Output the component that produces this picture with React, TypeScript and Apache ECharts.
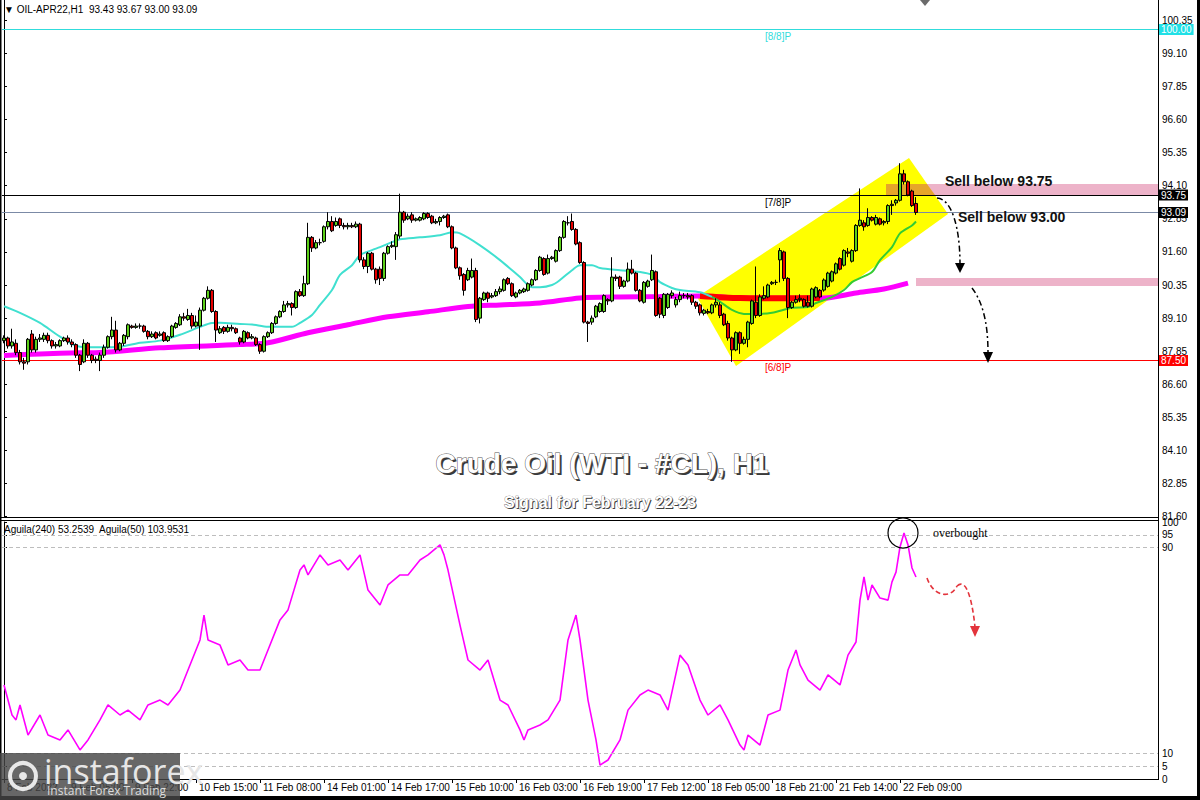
import React, { useEffect, useRef } from "react";
import * as echarts from "echarts";

// ---------- DATA ----------
// hourly candles, index = bar number from the left, [open, close, low, high]
const OHLC: number[][] = [
  [88.25, 88.35, 88.15, 88.45], [88.35, 88.05, 87.95, 88.4], [88.05, 88.2, 87.95, 88.7], [88.15, 87.8, 87.7, 88.3],
  [87.8, 87.45, 87.35, 87.9], [87.45, 87.4, 87.15, 87.6], [87.45, 88.3, 87.35, 88.35], [88.5, 87.9, 87.8, 88.65],
  [87.9, 88.3, 87.8, 88.4], [88.3, 88.35, 88.2, 88.5], [88.3, 88.45, 88.2, 88.55], [88.45, 88.25, 88.15, 88.55],
  [88.25, 88.05, 87.95, 88.3], [88.05, 88.1, 87.95, 88.2], [88.05, 88.25, 88.0, 88.3], [88.25, 88.35, 88.2, 88.4],
  [88.35, 88.2, 88.1, 88.45], [88.2, 88.1, 88.0, 88.3], [88.1, 87.7, 87.6, 88.15], [87.7, 87.35, 87.1, 87.75],
  [87.45, 88.15, 87.4, 88.3], [88.15, 87.7, 87.6, 88.2], [87.7, 87.5, 87.4, 87.75], [87.55, 87.5, 87.4, 87.65],
  [87.5, 87.7, 87.1, 87.8], [87.7, 88.0, 87.6, 88.1], [88.0, 88.4, 87.95, 88.45], [88.4, 88.65, 88.3, 89.15],
  [88.65, 87.9, 87.8, 89.0], [87.9, 88.15, 87.85, 88.2], [88.15, 88.45, 88.05, 88.5], [88.4, 88.85, 88.3, 88.9],
  [88.8, 88.75, 88.7, 88.85], [88.75, 88.8, 88.7, 88.9], [88.8, 88.8, 88.7, 88.9], [88.8, 88.6, 88.55, 88.85],
  [88.6, 88.4, 88.3, 88.65], [88.4, 88.5, 88.35, 88.6], [88.55, 88.35, 88.3, 88.6], [88.45, 88.5, 88.4, 88.6],
  [88.55, 88.25, 88.2, 88.6], [88.25, 88.4, 88.2, 88.45], [88.4, 88.8, 88.35, 88.85], [88.75, 88.9, 88.7, 88.95],
  [88.85, 89.15, 88.8, 89.25], [89.15, 89.1, 89.0, 89.3], [89.05, 89.2, 89.0, 89.45], [89.2, 88.8, 88.7, 89.3],
  [88.8, 88.95, 88.75, 89.2], [88.8, 89.4, 87.9, 89.5], [89.4, 89.85, 89.35, 89.9], [89.85, 90.15, 89.8, 90.3],
  [90.15, 89.35, 89.3, 90.2], [89.35, 88.65, 88.2, 89.4], [88.55, 88.7, 88.5, 88.8], [88.75, 88.6, 88.5, 88.8],
  [88.6, 88.75, 88.55, 88.85], [88.75, 88.7, 88.6, 88.85], [88.7, 88.55, 88.5, 88.75],
  [88.35, 88.2, 88.1, 88.4], [88.2, 88.6, 88.15, 88.65], [88.55, 88.35, 88.3, 88.6], [88.35, 88.4, 88.3, 88.5],
  [88.35, 88.1, 88.05, 88.4], [88.1, 87.85, 87.75, 88.15], [87.85, 88.4, 87.8, 88.45], [88.4, 88.55, 88.35, 88.6],
  [88.55, 88.9, 88.5, 88.95], [88.9, 89.15, 88.85, 89.2], [89.15, 89.35, 89.1, 89.4], [89.35, 89.6, 89.3, 89.75],
  [89.6, 89.65, 89.5, 89.75], [89.65, 89.5, 89.2, 89.7], [89.5, 90.1, 89.45, 90.15], [90.1, 89.95, 89.9, 90.2],
  [89.95, 90.4, 89.9, 90.7], [90.4, 92.15, 90.35, 92.7], [92.15, 91.75, 91.6, 92.2], [91.75, 91.95, 91.7, 92.05],
  [91.95, 91.95, 91.85, 92.1], [92.0, 92.55, 91.95, 92.6], [92.55, 92.75, 92.45, 93.1], [92.75, 92.4, 92.35, 92.95],
  [92.6, 92.75, 92.55, 92.9], [92.85, 92.6, 92.5, 92.9], [92.6, 92.55, 92.45, 92.7], [92.55, 92.6, 92.45, 92.7],
  [92.6, 92.55, 92.5, 92.7], [92.55, 92.65, 92.5, 92.75], [92.65, 91.3, 91.2, 92.7], [91.3, 91.05, 90.95, 91.4],
  [91.05, 91.55, 90.8, 91.6], [91.55, 90.95, 90.9, 91.6], [90.95, 90.55, 90.4, 91.0], [90.95, 90.6, 90.35, 91.05],
  [90.6, 91.55, 90.5, 91.6], [91.55, 91.8, 91.5, 91.85], [91.8, 91.85, 91.75, 92.0], [91.8, 92.25, 91.3, 92.35],
  [92.2, 93.1, 92.1, 93.8], [93.1, 92.8, 92.7, 93.15], [92.85, 92.95, 92.8, 93.05], [93.0, 92.8, 92.7, 93.1],
  [92.8, 92.85, 92.75, 92.9], [92.8, 92.9, 92.75, 92.95], [92.85, 93.05, 92.8, 93.1], [93.05, 92.9, 92.85, 93.1],
  [92.95, 92.7, 92.65, 93.0], [92.7, 92.75, 92.65, 92.85], [92.75, 92.9, 92.6, 92.95], [92.9, 92.95, 92.85, 93.0],
  [93.0, 92.55, 92.5, 93.05], [92.55, 91.75, 91.7, 92.6], [91.75, 91.0, 90.95, 91.8], [91.0, 90.7, 90.55, 91.05],
  [90.75, 90.15, 89.95, 90.8],
  [90.55, 90.9, 90.5, 91.0], [90.65, 90.9, 90.6, 91.35], [90.9, 89.05, 88.95, 91.0], [89.1, 89.85, 88.9, 89.9],
  [89.8, 90.05, 89.75, 90.1], [90.05, 89.85, 89.7, 90.1], [89.9, 89.95, 89.85, 90.05], [89.95, 90.1, 89.9, 90.2],
  [90.1, 90.2, 90.0, 90.3], [90.15, 90.55, 90.1, 90.6], [90.6, 90.4, 90.35, 90.65], [90.4, 89.95, 89.9, 90.45],
  [89.9, 90.05, 89.85, 90.1], [90.05, 90.15, 90.0, 90.2], [90.1, 90.2, 90.05, 90.25], [90.15, 90.4, 90.1, 90.45],
  [90.35, 90.55, 90.3, 90.6], [90.55, 90.9, 90.5, 90.95], [90.9, 91.4, 90.85, 91.45], [91.35, 90.75, 90.7, 91.4],
  [90.8, 91.35, 90.75, 91.5], [91.35, 91.4, 91.3, 91.45], [91.25, 91.65, 91.2, 91.7], [91.65, 92.15, 91.6, 92.2],
  [92.15, 92.75, 92.1, 92.8], [92.7, 92.7, 92.6, 92.95], [92.75, 92.45, 92.4, 93.05], [92.45, 91.9, 91.85, 92.5],
  [91.95, 91.2, 91.15, 92.0], [91.2, 88.95, 88.9, 91.25], [88.95, 88.9, 88.2, 89.0], [88.95, 89.1, 88.85, 89.2],
  [89.15, 89.55, 89.1, 89.6], [89.35, 89.65, 89.3, 89.7], [89.35, 89.95, 89.3, 90.0], [89.8, 89.75, 89.6, 89.85],
  [89.75, 90.65, 89.7, 91.4], [90.65, 90.6, 90.5, 90.75], [90.65, 90.3, 90.2, 90.7], [90.3, 90.5, 90.25, 90.55],
  [90.5, 90.95, 90.45, 91.2], [90.95, 90.8, 90.75, 91.3], [90.8, 90.15, 90.1, 90.85], [90.15, 89.75, 89.7, 90.2],
  [89.7, 90.45, 89.65, 90.5], [90.3, 90.5, 90.25, 90.55], [90.55, 90.9, 90.5, 91.5], [90.85, 89.2, 89.15, 90.9],
  [89.85, 89.25, 89.1, 89.9], [89.2, 90.0, 89.1, 90.05], [89.5, 90.0, 89.45, 90.05], [89.95, 90.05, 89.85, 90.15],
  [89.6, 89.8, 89.5, 89.9], [89.8, 89.95, 89.7, 90.1], [89.95, 89.95, 89.85, 90.05], [89.95, 89.9, 89.8, 90.05],
  [89.95, 89.7, 89.6, 90.0], [89.7, 89.55, 89.45, 89.75],
  [89.6, 89.3, 89.2, 89.65], [89.28, 89.4, 89.2, 89.45], [89.35, 89.3, 89.25, 89.45], [89.3, 89.6, 89.25, 89.65],
  [89.6, 89.7, 89.5, 89.85], [89.6, 89.2, 89.1, 89.7], [89.25, 88.85, 88.8, 89.3], [88.9, 88.35, 88.25, 89.0],
  [88.35, 87.9, 87.45, 88.4], [87.9, 88.55, 87.85, 88.6], [88.55, 88.15, 87.75, 88.6], [88.15, 88.3, 88.1, 88.4],
  [88.3, 88.95, 88.0, 89.0], [88.9, 89.75, 88.85, 89.8], [89.7, 89.2, 89.1, 91.05], [89.2, 89.9, 89.15, 90.0],
  [89.85, 89.95, 89.8, 90.3], [89.9, 90.35, 89.85, 90.4], [90.4, 90.45, 90.35, 90.5], [90.45, 90.45, 90.35, 90.55],
  [91.3, 91.65, 90.45, 91.75], [91.6, 90.6, 90.5, 91.65], [90.6, 89.5, 89.1, 90.65], [89.5, 89.7, 89.45, 89.75],
  [89.7, 89.8, 89.65, 89.95], [89.8, 89.85, 89.7, 90.0], [89.8, 89.55, 89.5, 89.85], [89.7, 89.55, 89.5, 89.95],
  [89.55, 90.2, 89.5, 90.25], [89.9, 90.25, 89.85, 90.3], [90.15, 89.9, 89.85, 90.2], [90.16, 90.54, 90.1, 90.6],
  [90.3, 90.8, 90.25, 90.85], [90.5, 90.85, 90.45, 90.9], [90.8, 91.15, 90.75, 91.2], [91.35, 90.95, 90.9, 91.4],
  [91.1, 91.65, 91.05, 91.7], [91.6, 91.55, 91.4, 91.75], [91.25, 91.65, 91.2, 91.7], [91.65, 92.6, 91.6, 92.65],
  [92.6, 92.8, 92.55, 94.0], [92.7, 92.55, 92.4, 92.8], [92.6, 92.9, 92.55, 93.25], [92.9, 92.8, 92.75, 92.95],
  [92.65, 92.9, 92.6, 93.0], [92.85, 92.65, 92.6, 92.9], [92.7, 92.75, 92.6, 92.8], [92.75, 93.35, 92.65, 93.4],
  [93.35, 93.4, 93.0, 93.55], [93.45, 93.55, 93.35, 93.6], [93.55, 94.55, 93.5, 94.95], [94.55, 94.25, 94.15, 94.7],
  [94.25, 93.75, 93.7, 94.3], [93.9, 93.35, 93.3, 93.95], [93.43, 93.09, 93.0, 93.67],
];

// moving averages: [bar index, price]
const MA_FAST: number[][] = [
  [0, 89.55], [4, 89.3], [9, 88.92], [14, 88.4], [19, 88.02], [24, 88.0], [29, 88.02], [34, 88.17], [39, 88.25],
  [44, 88.47], [49, 88.77], [52, 88.92], [54, 88.93], [59, 88.88], [62, 88.86], [66, 88.77], [72, 88.77], [74, 88.92],
  [77, 89.22], [79, 89.6], [82, 90.16], [84, 90.73], [87, 91.1], [89, 91.48], [92, 91.67], [94, 91.78], [97, 91.97],
  [99, 92.08], [104, 92.15], [109, 92.23], [112, 92.34], [114, 92.3], [119, 91.85], [124, 91.29], [129, 90.65],
  [132, 90.27], [134, 90.27], [137, 90.35], [139, 90.54], [142, 90.91], [144, 91.1], [147, 91.1], [149, 90.99],
  [154, 90.91], [159, 90.84], [162, 90.73], [164, 90.46], [167, 90.24], [169, 90.16], [174, 90.08], [177, 89.9],
];
const MA_FAST_GREEN: number[][] = [
  [177, 89.9], [179, 89.72], [182, 89.41], [185, 89.26], [189, 89.26], [192, 89.3], [197, 89.49], [201, 89.52],
  [203, 89.67], [207, 89.9], [210, 90.16], [212, 90.46], [214, 90.61], [217, 90.84], [219, 91.29], [222, 91.78],
  [224, 92.3], [227, 92.6], [228, 92.75],
];
const MA_SLOW: number[][] = [
  [0, 87.69], [9, 87.75], [19, 87.79], [24, 87.8], [39, 87.98], [59, 88.1], [66, 88.17], [76, 88.55], [86, 88.85],
  [96, 89.15], [106, 89.34], [116, 89.54], [124, 89.6], [134, 89.67], [144, 89.86], [154, 89.9], [164, 89.92],
  [174, 89.94], [184, 89.86], [194, 89.85], [205, 89.86], [213, 90.05], [220, 90.2], [226, 90.42],
];
const MA_SLOW_RED: number[][] = [[174, 89.94], [184, 89.86], [194, 89.85], [204, 89.86]];

// Aguila(50) oscillator: [bar index, value]
const AGUILA: number[][] = [
  [0, 36.6], [2, 24.9], [3, 23.0], [4, 28.8], [6, 17.1], [9, 24.9], [11, 17.1], [14, 15.2], [16, 19.1], [19, 11.3],
  [21, 15.2], [24, 23.0], [26, 28.8], [29, 24.9], [31, 26.8], [34, 23.0], [36, 28.8], [39, 30.7], [41, 28.8],
  [44, 34.6], [46, 42.4], [49, 54.1], [50, 63.8], [51, 54.1], [54, 52.1], [56, 44.4], [59, 46.3], [61, 42.4],
  [64, 42.4], [66, 50.2], [69, 61.9], [71, 65.8], [74, 81.3], [75, 83.3], [76, 79.4], [79, 87.2], [81, 83.3],
  [84, 85.2], [86, 81.3], [89, 87.2], [91, 73.5], [94, 67.7], [96, 75.5], [99, 79.4], [101, 79.4], [104, 85.2],
  [106, 87.2], [109, 91.1], [110, 87.2], [111, 81.3], [114, 59.9], [116, 46.3], [119, 42.4], [121, 46.3],
  [124, 30.7], [126, 28.8], [129, 19.1], [130, 15.2], [131, 19.1], [134, 21.0], [136, 23.0], [139, 30.7],
  [141, 54.1], [143, 63.8], [144, 54.1], [146, 30.7], [148, 15.2], [149, 5.4], [151, 7.4], [154, 15.2],
  [156, 26.8], [159, 32.7], [161, 34.6], [164, 32.7], [166, 26.8], [169, 48.2], [171, 44.4], [174, 30.7],
  [176, 24.9], [179, 28.8], [181, 23.0], [184, 13.2], [185, 11.3], [186, 17.1], [189, 13.2], [191, 24.9],
  [194, 26.8], [196, 42.4], [198, 50.2], [199, 44.4], [201, 38.5], [204, 34.6], [206, 40.5], [209, 36.6],
  [211, 48.2], [213, 53.3], [214, 69.6], [215, 78.6], [216, 69.6], [217, 75.5], [219, 70.4], [221, 69.6],
  [222, 76.7], [223, 80.5], [224, 90.3], [225, 95.7], [226, 91.1], [227, 82.1], [228, 78.6],
];

const PRICE_TICKS = [81.6, 82.85, 84.1, 85.35, 86.6, 87.85, 89.1, 90.35, 91.6, 92.85, 94.1, 95.35, 96.6, 97.85, 99.1, 100.35];
const OSC_TICKS = [0, 5, 10, 90, 95, 100];
const OSC_LEVELS = [5, 10, 90, 95];
const TIME_TICKS = [0, 16, 32, 48, 64, 80, 96, 112, 128, 144, 160, 176, 192, 208, 224];
const TIME_LABELS = [
  "8 Feb 2022", "9 Feb 05:00", "9 Feb 22:00", "10 Feb 15:00", "11 Feb 08:00", "14 Feb 01:00", "14 Feb 17:00",
  "15 Feb 10:00", "16 Feb 03:00", "16 Feb 19:00", "17 Feb 12:00", "18 Feb 05:00", "18 Feb 21:00", "21 Feb 14:00",
  "22 Feb 09:00",
];
const LEVELS = [100.0, 93.75, 93.09, 87.5];
const LEVEL_TAGS = ["[8/8]P", "[7/8]P", "", "[6/8]P"];
const SELL_LEVELS = [93.75, 93.0];
const CHANNEL = [[173.25, 89.9], [226.25, 95.15], [236, 93.03], [183, 87.29]];
const BANDS = [[220.5, 94.17, 93.75], [228, 90.62, 90.31]];
const BAND_OVERLAP = [[220.5, 94.17], [230.75, 94.17], [232.75, 93.75], [220.5, 93.75]];

// ---------- STYLE ----------
const X_MIN = -0.5;
const X_MAX = 288.5;
const FONT = '"Liberation Sans", "DejaVu Sans", sans-serif';
const LEVEL_LINE_COLORS = ["#30dcdc", "#000000", "#7b8aa6", "#ff0000"];
const LEVEL_BOX_COLORS = ["#20e0e6", "#000000", "#000000", "#ff0000"];
const TAG_X = 190.25;
const SELL_TEXT_POS = [[235.25, 94.27], [238.5, 92.92]];

export default function App() {
  const ref = useRef<HTMLDivElement>(null);

  useEffect(() => {
    if (!ref.current) return;
    const chart = echarts.init(ref.current, undefined, { renderer: "svg" });

    const candleData = OHLC.map((d, i) => [i, d[0], d[1], d[2], d[3]]);

    const option: any = {
      animation: false,
      backgroundColor: "#ffffff",
      grid: [
        { left: 2, top: 0, width: 1156, height: 517 },
        { left: 2, top: 522, width: 1156, height: 257 },
      ],
      xAxis: [
        { type: "value", gridIndex: 0, min: X_MIN, max: X_MAX, show: false },
        {
          type: "value", gridIndex: 1, min: X_MIN, max: X_MAX,
          axisLine: { show: true, onZero: false, lineStyle: { color: "#000", width: 1 } },
          axisTick: { show: true, customValues: TIME_TICKS, length: 4, lineStyle: { color: "#000" } },
          axisLabel: {
            customValues: TIME_TICKS,
            formatter: (v: number) => { const k = TIME_TICKS.indexOf(Math.round(v)); return k >= 0 ? TIME_LABELS[k] : ""; },
            align: "left", margin: 3, padding: [0, 0, 0, 3], fontSize: 10, fontFamily: FONT, color: "#000",
          },
          splitLine: { show: false },
        },
      ],
      yAxis: [
        {
          type: "value", gridIndex: 0, position: "right", min: 81.59, max: 101.114, scale: true,
          axisLine: { show: true, lineStyle: { color: "#000" } },
          axisTick: { show: true, customValues: PRICE_TICKS, length: 3, lineStyle: { color: "#000" } },
          axisLabel: { customValues: PRICE_TICKS, formatter: (v: number) => v.toFixed(2), fontSize: 10, fontFamily: FONT, color: "#000", margin: 4 },
          splitLine: { show: false },
        },
        {
          type: "value", gridIndex: 1, position: "right", min: 0, max: 100,
          axisLine: { show: true, lineStyle: { color: "#000" } },
          axisTick: { show: true, customValues: OSC_TICKS, length: 3, lineStyle: { color: "#000" } },
          axisLabel: { customValues: OSC_TICKS, formatter: (v: number) => String(v), fontSize: 10, fontFamily: FONT, color: "#000", margin: 4 },
          splitLine: { show: false },
        },
      ],
      series: [
        {
          type: "custom", name: "zones", xAxisIndex: 0, yAxisIndex: 0, z: 1, silent: true,
          data: [[0, 90]],
          renderItem: (_p: any, api: any) => {
            const c = (x: number, y: number) => api.coord([x, y]);
            const children: any[] = [];
            children.push({ type: "polygon", shape: { points: CHANNEL.map(([x, y]) => c(x, y)) }, style: { fill: "#ffff00" } });
            BANDS.forEach(([x0, top, bot]) => {
              const a = c(x0, top);
              const b = c(X_MAX, bot);
              children.push({ type: "rect", shape: { x: a[0], y: a[1], width: b[0] - a[0], height: b[1] - a[1] }, style: { fill: "#edb3c9" } });
            });
            children.push({ type: "polygon", shape: { points: BAND_OVERLAP.map(([x, y]) => c(x, y)) }, style: { fill: "#e6a52a" } });
            return { type: "group", children };
          },
        },
        {
          type: "line", name: "MA slow", xAxisIndex: 0, yAxisIndex: 0, z: 2, data: MA_SLOW, showSymbol: false, smooth: 0.3,
          lineStyle: { color: "#ff00ff", width: 5 }, silent: true,
        },
        {
          type: "line", name: "MA slow red", xAxisIndex: 0, yAxisIndex: 0, z: 2, data: MA_SLOW_RED, showSymbol: false, smooth: 0.3,
          lineStyle: { color: "#ff0000", width: 6 }, silent: true,
        },
        {
          type: "line", name: "MA fast", xAxisIndex: 0, yAxisIndex: 0, z: 2, data: MA_FAST, showSymbol: false, smooth: 0.3,
          lineStyle: { color: "#40e0d0", width: 2 }, silent: true,
        },
        {
          type: "line", name: "MA fast green", xAxisIndex: 0, yAxisIndex: 0, z: 2, data: MA_FAST_GREEN, showSymbol: false, smooth: 0.3,
          lineStyle: { color: "#33cc33", width: 2 }, silent: true,
        },
        {
          type: "candlestick", name: "OIL-APR22", xAxisIndex: 0, yAxisIndex: 0, z: 4,
          data: candleData, encode: { x: 0, y: [1, 2, 3, 4] }, barWidth: 3,
          itemStyle: { color: "#5ccf1a", color0: "#e60000", borderColor: "#000", borderColor0: "#000", borderWidth: 1 },
          markLine: {
            silent: true, symbol: ["none", "none"], z: 3,
            data: LEVELS.map((v, k) => ({
              yAxis: v,
              lineStyle: { color: LEVEL_LINE_COLORS[k], width: 1, type: "solid" },
              label: {
                show: true, position: "end", formatter: v.toFixed(2), color: "#fff", backgroundColor: LEVEL_BOX_COLORS[k],
                padding: [1, 2, 0, 2], fontSize: 10, fontFamily: FONT, distance: 1,
              },
            })),
          },
        },
        {
          type: "custom", name: "notes", xAxisIndex: 0, yAxisIndex: 0, z: 10, silent: true,
          data: [[0, 90]],
          renderItem: (_p: any, api: any) => {
            const c = (x: number, y: number) => api.coord([x, y]);
            const children: any[] = [];
            LEVELS.forEach((v, k) => {
              if (!LEVEL_TAGS[k]) return;
              const [x, y] = c(TAG_X, v);
              children.push({
                type: "text", x, y: y + 2,
                style: { text: LEVEL_TAGS[k], fill: k === 1 ? "#000" : LEVEL_LINE_COLORS[k], font: `10px ${FONT}`, textAlign: "left", textVerticalAlign: "top" },
              });
            });
            SELL_LEVELS.forEach((v, k) => {
              const [x, y] = c(SELL_TEXT_POS[k][0], SELL_TEXT_POS[k][1]);
              children.push({
                type: "text", x, y,
                style: { text: `Sell below ${v.toFixed(2)}`, fill: "#111", font: `bold 14px ${FONT}`, textAlign: "left", textVerticalAlign: "middle" },
              });
            });
            return { type: "group", children };
          },
        },
        {
          type: "line", name: "Aguila(50)", xAxisIndex: 1, yAxisIndex: 1, data: AGUILA, showSymbol: false,
          lineStyle: { color: "#ff00ff", width: 1.6 }, silent: true, z: 3,
          markLine: {
            silent: true, symbol: ["none", "none"], label: { show: false },
            lineStyle: { color: "#bdbdbd", type: [4, 3], width: 1 },
            data: OSC_LEVELS.map((v) => ({ yAxis: v })),
          },
        },
      ],
      graphic: [
        // panel frame lines
        { type: "line", shape: { x1: 0, y1: 517.5, x2: 1158, y2: 517.5 }, style: { stroke: "#000", lineWidth: 1 }, z: 20 },
        { type: "line", shape: { x1: 0, y1: 520.5, x2: 1158, y2: 520.5 }, style: { stroke: "#000", lineWidth: 1 }, z: 20 },
        { type: "line", shape: { x1: 1158.5, y1: 0, x2: 1158.5, y2: 780 }, style: { stroke: "#000", lineWidth: 1 }, z: 20 },
        { type: "rect", shape: { x: 0, y: 0, width: 1.5, height: 800 }, style: { fill: "#000" }, z: 20 },
        { type: "rect", shape: { x: 1197, y: 0, width: 3, height: 800 }, style: { fill: "#000" }, z: 20 },
        { type: "rect", shape: { x: 0, y: 796, width: 1200, height: 4 }, style: { fill: "#000" }, z: 20 },
        { type: "polygon", shape: { points: [[920, 0], [930, 0], [925, 6]] }, style: { fill: "#6b6b6b" }, z: 20 },
        // headers
        { type: "text", x: 4, y: 9, style: { text: "▼ OIL-APR22,H1  93.43 93.67 93.00 93.09", fill: "#000", font: `10px ${FONT}`, textVerticalAlign: "middle" }, z: 20 },
        { type: "text", x: 4, y: 529, style: { text: "Aguila(240) 53.2539  Aguila(50) 103.9531", fill: "#000", font: `10px ${FONT}`, textVerticalAlign: "middle" }, z: 20 },
        // title
        { type: "text", x: 604, y: 465, style: { text: "Crude Oil (WTI - #CL), H1", fill: "#3a3a3a", font: `bold 28px ${FONT}`, textAlign: "center", textVerticalAlign: "middle" }, z: 19 },
        { type: "text", x: 602, y: 463, style: { text: "Crude Oil (WTI - #CL), H1", fill: "#ffffff", stroke: "#555", lineWidth: 1, font: `bold 28px ${FONT}`, textAlign: "center", textVerticalAlign: "middle" }, z: 20 },
        { type: "text", x: 601, y: 503, style: { text: "Signal for February 22-23", fill: "#3a3a3a", font: `bold 16px ${FONT}`, textAlign: "center", textVerticalAlign: "middle" }, z: 19 },
        { type: "text", x: 600, y: 502, style: { text: "Signal for February 22-23", fill: "#ffffff", stroke: "#555", lineWidth: 0.6, font: `bold 16px ${FONT}`, textAlign: "center", textVerticalAlign: "middle" }, z: 20 },
        // dash-dot arrows in the price panel
        { type: "bezierCurve", shape: { x1: 937, y1: 198, cpx1: 952, cpy1: 199, cpx2: 960, cpy2: 228, x2: 960, y2: 264 }, style: { stroke: "#000", fill: null, lineWidth: 1.5, lineDash: [6, 3, 2, 3] }, z: 20 },
        { type: "polygon", shape: { points: [[955, 263], [965, 263], [960, 273]] }, style: { fill: "#000" }, z: 20 },
        { type: "bezierCurve", shape: { x1: 972, y1: 288, cpx1: 985, cpy1: 305, cpx2: 988, cpy2: 330, x2: 988, y2: 353 }, style: { stroke: "#000", fill: null, lineWidth: 1.5, lineDash: [6, 3, 2, 3] }, z: 20 },
        { type: "polygon", shape: { points: [[983, 352], [993, 352], [988, 363]] }, style: { fill: "#000" }, z: 20 },
        // oscillator notes
        { type: "circle", shape: { cx: 903, cy: 533, r: 15 }, style: { stroke: "#000", fill: null, lineWidth: 1.2 }, z: 20 },
        { type: "text", x: 933, y: 533, style: { text: "overbought", fill: "#000", font: '12px "Liberation Serif", serif', textVerticalAlign: "middle" }, z: 20 },
        { type: "bezierCurve", shape: { x1: 927, y1: 578, cpx1: 933, cpy1: 596, cpx2: 950, cpy2: 600, x2: 957, y2: 586 }, style: { stroke: "#e3343c", fill: null, lineWidth: 1.6, lineDash: [5, 3] }, z: 20 },
        { type: "bezierCurve", shape: { x1: 957, y1: 586, cpx1: 968, cpy1: 576, cpx2: 973, cpy2: 608, x2: 975, y2: 627 }, style: { stroke: "#e3343c", fill: null, lineWidth: 1.6, lineDash: [5, 3] }, z: 20 },
        { type: "polygon", shape: { points: [[970, 626], [980, 626], [975, 637]] }, style: { fill: "#e3343c" }, z: 20 },
        // logo
        { type: "rect", shape: { x: 0, y: 753, width: 180, height: 47 }, style: { fill: "rgba(70,70,70,0.82)" }, z: 30 },
        { type: "circle", shape: { cx: 23, cy: 776, r: 13 }, style: { stroke: "#e8e8e8", fill: null, lineWidth: 4 }, z: 31 },
        { type: "circle", shape: { cx: 23, cy: 776, r: 4 }, style: { fill: "#e8e8e8" }, z: 31 },
        { type: "text", x: 44, y: 771, style: { text: "instaforex", fill: "#e6e6e6", font: '34px "Open Sans", sans-serif', textVerticalAlign: "middle" }, z: 31 },
        { type: "text", x: 47, y: 790, style: { text: "Instant Forex Trading", fill: "#dcdcdc", font: '12px "Open Sans", sans-serif', textVerticalAlign: "middle" }, z: 31 },
      ],
    };

    chart.setOption(option);
    return () => chart.dispose();
  }, []);

  return <div ref={ref} style={{ position: "fixed", left: 0, top: 0, width: 1200, height: 800, background: "#fff" }} />;
}
